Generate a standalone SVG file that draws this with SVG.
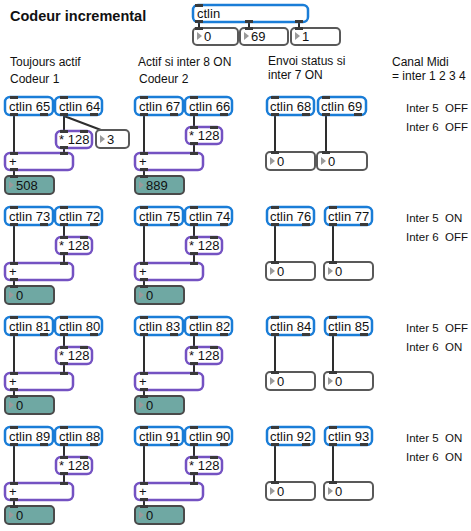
<svg xmlns="http://www.w3.org/2000/svg" width="471" height="531" viewBox="0 0 471 531">
<style>
text{font-family:"Liberation Sans",Arial,sans-serif;fill:#111}
.t{font-size:12px}
.i{font-size:11.5px;white-space:pre}
.h{font-size:14.5px;font-weight:bold}
.b{font-size:13px}
.ct{fill:#fff;stroke:#1a7dd7;stroke-width:2.5}
.op{fill:#fff;stroke:#7452c2;stroke-width:2.5}
.nb{fill:#fff;stroke:#595959;stroke-width:2}
.tl{fill:#6fa8a3;stroke:#4a4a4a;stroke-width:2}
.p{fill:#3a3a3a}
.tri{fill:#9a9a9a}
.w{stroke:#2e2e2e;stroke-width:2;fill:none}
</style>
<defs>
<polygon id="tr" class="tri" points="0,0 5,4 0,8"/>
</defs>

<text class="h" x="10" y="21">Codeur incremental</text>
<text class="t" x="10" y="66">Toujours actif</text>
<text class="t" x="10" y="83">Codeur 1</text>
<text class="t" x="138" y="66">Actif si inter 8 ON</text>
<text class="t" x="139" y="83">Codeur 2</text>
<text class="t" x="268" y="65">Envoi status si</text>
<text class="t" x="268" y="79">inter 7 ON</text>
<text class="t" x="392" y="66">Canal Midi</text>
<text class="t" x="392" y="80">= inter 1 2 3 4</text>

<text class="i" x="406" y="112" xml:space="preserve">Inter 5  OFF</text>
<text class="i" x="406" y="131" xml:space="preserve">Inter 6  OFF</text>
<text class="i" x="406" y="222" xml:space="preserve">Inter 5  ON</text>
<text class="i" x="406" y="241" xml:space="preserve">Inter 6  OFF</text>
<text class="i" x="406" y="332" xml:space="preserve">Inter 5  OFF</text>
<text class="i" x="406" y="351" xml:space="preserve">Inter 6  ON</text>
<text class="i" x="406" y="442" xml:space="preserve">Inter 5  ON</text>
<text class="i" x="406" y="461" xml:space="preserve">Inter 6  ON</text>

<g id="connectors">
<path class="w" d="M199 22V28M249 22V28M299 22V28"/>
<path class="w" d="M14 115V153M64 115V131M64 148V153M14 170V176M64 116L101 130"/>
<path class="w" d="M144 115V153M194 115V127M194 144V153M144 170V176"/>
<path class="w" d="M275 115V152M326 115V152"/>
<path class="w" d="M14 225V263M64 225V237M64 254V263M14 280V286"/>
<path class="w" d="M144 225V263M194 225V237M194 254V263M144 280V286"/>
<path class="w" d="M275 225V262M333 225V262"/>
<path class="w" d="M14 335V373M64 335V347M64 364V373M14 390V396"/>
<path class="w" d="M144 335V373M194 335V347M194 364V373M144 390V396"/>
<path class="w" d="M275 335V372M333 335V372"/>
<path class="w" d="M14 445V483M64 445V457M64 474V483M14 500V506"/>
<path class="w" d="M144 445V483M194 445V457M194 474V483M144 500V506"/>
<path class="w" d="M275 445V482M333 445V482"/>
</g>

<g id="ctlin_main">
<rect class="ct" x="193" y="5" width="115" height="17" rx="5"/>
<rect class="p" x="195" y="4" width="8" height="3"/>
<rect class="p" x="195" y="20" width="8" height="3"/>
<rect class="p" x="245" y="20" width="8" height="3"/>
<rect class="p" x="295" y="20" width="8" height="3"/>
<text class="b" x="197" y="18">ctlin</text>
</g>
<g id="num_top1"><rect class="nb" x="193" y="28" width="45" height="17" rx="4"/><rect class="p" x="195" y="27" width="8" height="3"/><use href="#tr" x="197" y="32"/><text class="b" x="204" y="41">0</text></g>
<g id="num_top2"><rect class="nb" x="240" y="28" width="48" height="17" rx="4"/><rect class="p" x="245" y="27" width="8" height="3"/><use href="#tr" x="244" y="32"/><text class="b" x="251" y="41">69</text></g>
<g id="num_top3"><rect class="nb" x="291" y="28" width="49" height="17" rx="4"/><rect class="p" x="295" y="27" width="8" height="3"/><use href="#tr" x="295" y="32"/><text class="b" x="302" y="41">1</text></g>

<g id="ctlin65"><rect class="ct" x="5" y="97" width="48" height="18" rx="5"/><rect class="p" x="10" y="96" width="8" height="3"/><rect class="p" x="10" y="113" width="8" height="3"/><rect class="p" x="40" y="113" width="8" height="3"/><text class="b" x="9" y="111">ctlin 65</text></g>
<g id="ctlin64"><rect class="ct" x="55" y="97" width="47" height="18" rx="5"/><rect class="p" x="60" y="96" width="8" height="3"/><rect class="p" x="60" y="113" width="8" height="3"/><rect class="p" x="90" y="113" width="8" height="3"/><text class="b" x="59" y="111">ctlin 64</text></g>
<g id="mul1a"><rect class="op" x="56" y="131" width="36" height="17" rx="5"/><rect class="p" x="60" y="130" width="8" height="3"/><rect class="p" x="80" y="130" width="8" height="3"/><rect class="p" x="60" y="146" width="8" height="3"/><text class="b" x="59" y="144">* 128</text></g>
<g id="num3"><rect class="nb" x="96" y="130" width="33" height="18" rx="4"/><use href="#tr" x="100" y="135"/><text class="b" x="107" y="144">3</text></g>
<g id="add1a"><rect class="op" x="5" y="153" width="68" height="17" rx="5"/><rect class="p" x="10" y="152" width="8" height="3"/><rect class="p" x="60" y="152" width="8" height="3"/><rect class="p" x="10" y="168" width="8" height="3"/><text class="b" x="9" y="166">+</text></g>
<g id="val1a"><rect class="tl" x="5" y="176" width="49" height="18" rx="4"/><rect class="p" x="10" y="175" width="8" height="3"/><use href="#tr" x="9" y="181"/><text class="b" x="16" y="190">508</text></g>

<g id="ctlin67"><rect class="ct" x="135" y="97" width="48" height="18" rx="5"/><rect class="p" x="140" y="96" width="8" height="3"/><rect class="p" x="140" y="113" width="8" height="3"/><rect class="p" x="170" y="113" width="8" height="3"/><text class="b" x="139" y="111">ctlin 67</text></g>
<g id="ctlin66"><rect class="ct" x="185" y="97" width="47" height="18" rx="5"/><rect class="p" x="190" y="96" width="8" height="3"/><rect class="p" x="190" y="113" width="8" height="3"/><rect class="p" x="220" y="113" width="8" height="3"/><text class="b" x="189" y="111">ctlin 66</text></g>
<g id="mul1b"><rect class="op" x="186" y="127" width="36" height="17" rx="5"/><rect class="p" x="190" y="126" width="8" height="3"/><rect class="p" x="210" y="126" width="8" height="3"/><rect class="p" x="190" y="142" width="8" height="3"/><text class="b" x="189" y="140">* 128</text></g>
<g id="add1b"><rect class="op" x="135" y="153" width="68" height="17" rx="5"/><rect class="p" x="140" y="152" width="8" height="3"/><rect class="p" x="190" y="152" width="8" height="3"/><rect class="p" x="140" y="168" width="8" height="3"/><text class="b" x="139" y="166">+</text></g>
<g id="val1b"><rect class="tl" x="135" y="176" width="49" height="18" rx="4"/><rect class="p" x="140" y="175" width="8" height="3"/><use href="#tr" x="139" y="181"/><text class="b" x="146" y="190">889</text></g>

<g id="ctlin68"><rect class="ct" x="267" y="97" width="47" height="18" rx="5"/><rect class="p" x="271" y="96" width="8" height="3"/><rect class="p" x="271" y="113" width="8" height="3"/><rect class="p" x="302" y="113" width="8" height="3"/><text class="b" x="270" y="111">ctlin 68</text></g>
<g id="ctlin69"><rect class="ct" x="318" y="97" width="48" height="18" rx="5"/><rect class="p" x="322" y="96" width="8" height="3"/><rect class="p" x="322" y="113" width="8" height="3"/><rect class="p" x="354" y="113" width="8" height="3"/><text class="b" x="321" y="111">ctlin 69</text></g>
<g id="num68"><rect class="nb" x="266" y="152" width="49" height="18" rx="4"/><rect class="p" x="271" y="151" width="8" height="3"/><use href="#tr" x="270" y="157"/><text class="b" x="277" y="166">0</text></g>
<g id="num69"><rect class="nb" x="317" y="152" width="50" height="18" rx="4"/><rect class="p" x="322" y="151" width="8" height="3"/><use href="#tr" x="321" y="157"/><text class="b" x="328" y="166">0</text></g>

<g id="ctlin73"><rect class="ct" x="5" y="207" width="48" height="18" rx="5"/><rect class="p" x="10" y="206" width="8" height="3"/><rect class="p" x="10" y="223" width="8" height="3"/><rect class="p" x="40" y="223" width="8" height="3"/><text class="b" x="9" y="221">ctlin 73</text></g>
<g id="ctlin72"><rect class="ct" x="55" y="207" width="47" height="18" rx="5"/><rect class="p" x="60" y="206" width="8" height="3"/><rect class="p" x="60" y="223" width="8" height="3"/><rect class="p" x="90" y="223" width="8" height="3"/><text class="b" x="59" y="221">ctlin 72</text></g>
<g id="mul2a"><rect class="op" x="56" y="237" width="36" height="17" rx="5"/><rect class="p" x="60" y="236" width="8" height="3"/><rect class="p" x="80" y="236" width="8" height="3"/><rect class="p" x="60" y="252" width="8" height="3"/><text class="b" x="59" y="250">* 128</text></g>
<g id="add2a"><rect class="op" x="5" y="263" width="68" height="17" rx="5"/><rect class="p" x="10" y="262" width="8" height="3"/><rect class="p" x="60" y="262" width="8" height="3"/><rect class="p" x="10" y="278" width="8" height="3"/><text class="b" x="9" y="276">+</text></g>
<g id="val2a"><rect class="tl" x="5" y="286" width="49" height="18" rx="4"/><rect class="p" x="10" y="285" width="8" height="3"/><use href="#tr" x="9" y="291"/><text class="b" x="16" y="300">0</text></g>

<g id="ctlin75"><rect class="ct" x="135" y="207" width="48" height="18" rx="5"/><rect class="p" x="140" y="206" width="8" height="3"/><rect class="p" x="140" y="223" width="8" height="3"/><rect class="p" x="170" y="223" width="8" height="3"/><text class="b" x="139" y="221">ctlin 75</text></g>
<g id="ctlin74"><rect class="ct" x="185" y="207" width="47" height="18" rx="5"/><rect class="p" x="190" y="206" width="8" height="3"/><rect class="p" x="190" y="223" width="8" height="3"/><rect class="p" x="220" y="223" width="8" height="3"/><text class="b" x="189" y="221">ctlin 74</text></g>
<g id="mul2b"><rect class="op" x="186" y="237" width="36" height="17" rx="5"/><rect class="p" x="190" y="236" width="8" height="3"/><rect class="p" x="210" y="236" width="8" height="3"/><rect class="p" x="190" y="252" width="8" height="3"/><text class="b" x="189" y="250">* 128</text></g>
<g id="add2b"><rect class="op" x="135" y="263" width="68" height="17" rx="5"/><rect class="p" x="140" y="262" width="8" height="3"/><rect class="p" x="190" y="262" width="8" height="3"/><rect class="p" x="140" y="278" width="8" height="3"/><text class="b" x="139" y="276">+</text></g>
<g id="val2b"><rect class="tl" x="135" y="286" width="49" height="18" rx="4"/><rect class="p" x="140" y="285" width="8" height="3"/><use href="#tr" x="139" y="291"/><text class="b" x="146" y="300">0</text></g>

<g id="ctlin76"><rect class="ct" x="267" y="207" width="47" height="18" rx="5"/><rect class="p" x="271" y="206" width="8" height="3"/><rect class="p" x="271" y="223" width="8" height="3"/><rect class="p" x="302" y="223" width="8" height="3"/><text class="b" x="270" y="221">ctlin 76</text></g>
<g id="ctlin77"><rect class="ct" x="325" y="207" width="47" height="18" rx="5"/><rect class="p" x="329" y="206" width="8" height="3"/><rect class="p" x="329" y="223" width="8" height="3"/><rect class="p" x="360" y="223" width="8" height="3"/><text class="b" x="328" y="221">ctlin 77</text></g>
<g id="num76"><rect class="nb" x="266" y="262" width="49" height="18" rx="4"/><rect class="p" x="271" y="261" width="8" height="3"/><use href="#tr" x="270" y="267"/><text class="b" x="277" y="276">0</text></g>
<g id="num77"><rect class="nb" x="324" y="262" width="49" height="18" rx="4"/><rect class="p" x="329" y="261" width="8" height="3"/><use href="#tr" x="328" y="267"/><text class="b" x="335" y="276">0</text></g>

<g id="ctlin81"><rect class="ct" x="5" y="317" width="48" height="18" rx="5"/><rect class="p" x="10" y="316" width="8" height="3"/><rect class="p" x="10" y="333" width="8" height="3"/><rect class="p" x="40" y="333" width="8" height="3"/><text class="b" x="9" y="331">ctlin 81</text></g>
<g id="ctlin80"><rect class="ct" x="55" y="317" width="47" height="18" rx="5"/><rect class="p" x="60" y="316" width="8" height="3"/><rect class="p" x="60" y="333" width="8" height="3"/><rect class="p" x="90" y="333" width="8" height="3"/><text class="b" x="59" y="331">ctlin 80</text></g>
<g id="mul3a"><rect class="op" x="56" y="347" width="36" height="17" rx="5"/><rect class="p" x="60" y="346" width="8" height="3"/><rect class="p" x="80" y="346" width="8" height="3"/><rect class="p" x="60" y="362" width="8" height="3"/><text class="b" x="59" y="360">* 128</text></g>
<g id="add3a"><rect class="op" x="5" y="373" width="68" height="17" rx="5"/><rect class="p" x="10" y="372" width="8" height="3"/><rect class="p" x="60" y="372" width="8" height="3"/><rect class="p" x="10" y="388" width="8" height="3"/><text class="b" x="9" y="386">+</text></g>
<g id="val3a"><rect class="tl" x="5" y="396" width="49" height="18" rx="4"/><rect class="p" x="10" y="395" width="8" height="3"/><use href="#tr" x="9" y="401"/><text class="b" x="16" y="410">0</text></g>

<g id="ctlin83"><rect class="ct" x="135" y="317" width="48" height="18" rx="5"/><rect class="p" x="140" y="316" width="8" height="3"/><rect class="p" x="140" y="333" width="8" height="3"/><rect class="p" x="170" y="333" width="8" height="3"/><text class="b" x="139" y="331">ctlin 83</text></g>
<g id="ctlin82"><rect class="ct" x="185" y="317" width="47" height="18" rx="5"/><rect class="p" x="190" y="316" width="8" height="3"/><rect class="p" x="190" y="333" width="8" height="3"/><rect class="p" x="220" y="333" width="8" height="3"/><text class="b" x="189" y="331">ctlin 82</text></g>
<g id="mul3b"><rect class="op" x="186" y="347" width="36" height="17" rx="5"/><rect class="p" x="190" y="346" width="8" height="3"/><rect class="p" x="210" y="346" width="8" height="3"/><rect class="p" x="190" y="362" width="8" height="3"/><text class="b" x="189" y="360">* 128</text></g>
<g id="add3b"><rect class="op" x="135" y="373" width="68" height="17" rx="5"/><rect class="p" x="140" y="372" width="8" height="3"/><rect class="p" x="190" y="372" width="8" height="3"/><rect class="p" x="140" y="388" width="8" height="3"/><text class="b" x="139" y="386">+</text></g>
<g id="val3b"><rect class="tl" x="135" y="396" width="49" height="18" rx="4"/><rect class="p" x="140" y="395" width="8" height="3"/><use href="#tr" x="139" y="401"/><text class="b" x="146" y="410">0</text></g>

<g id="ctlin84"><rect class="ct" x="267" y="317" width="47" height="18" rx="5"/><rect class="p" x="271" y="316" width="8" height="3"/><rect class="p" x="271" y="333" width="8" height="3"/><rect class="p" x="302" y="333" width="8" height="3"/><text class="b" x="270" y="331">ctlin 84</text></g>
<g id="ctlin85"><rect class="ct" x="325" y="317" width="47" height="18" rx="5"/><rect class="p" x="329" y="316" width="8" height="3"/><rect class="p" x="329" y="333" width="8" height="3"/><rect class="p" x="360" y="333" width="8" height="3"/><text class="b" x="328" y="331">ctlin 85</text></g>
<g id="num84"><rect class="nb" x="266" y="372" width="49" height="18" rx="4"/><rect class="p" x="271" y="371" width="8" height="3"/><use href="#tr" x="270" y="377"/><text class="b" x="277" y="386">0</text></g>
<g id="num85"><rect class="nb" x="324" y="372" width="49" height="18" rx="4"/><rect class="p" x="329" y="371" width="8" height="3"/><use href="#tr" x="328" y="377"/><text class="b" x="335" y="386">0</text></g>

<g id="ctlin89"><rect class="ct" x="5" y="427" width="48" height="18" rx="5"/><rect class="p" x="10" y="426" width="8" height="3"/><rect class="p" x="10" y="443" width="8" height="3"/><rect class="p" x="40" y="443" width="8" height="3"/><text class="b" x="9" y="441">ctlin 89</text></g>
<g id="ctlin88"><rect class="ct" x="55" y="427" width="47" height="18" rx="5"/><rect class="p" x="60" y="426" width="8" height="3"/><rect class="p" x="60" y="443" width="8" height="3"/><rect class="p" x="90" y="443" width="8" height="3"/><text class="b" x="59" y="441">ctlin 88</text></g>
<g id="mul4a"><rect class="op" x="56" y="457" width="36" height="17" rx="5"/><rect class="p" x="60" y="456" width="8" height="3"/><rect class="p" x="80" y="456" width="8" height="3"/><rect class="p" x="60" y="472" width="8" height="3"/><text class="b" x="59" y="470">* 128</text></g>
<g id="add4a"><rect class="op" x="5" y="483" width="68" height="17" rx="5"/><rect class="p" x="10" y="482" width="8" height="3"/><rect class="p" x="60" y="482" width="8" height="3"/><rect class="p" x="10" y="498" width="8" height="3"/><text class="b" x="9" y="496">+</text></g>
<g id="val4a"><rect class="tl" x="5" y="506" width="49" height="18" rx="4"/><rect class="p" x="10" y="505" width="8" height="3"/><use href="#tr" x="9" y="511"/><text class="b" x="16" y="520">0</text></g>

<g id="ctlin91"><rect class="ct" x="135" y="427" width="48" height="18" rx="5"/><rect class="p" x="140" y="426" width="8" height="3"/><rect class="p" x="140" y="443" width="8" height="3"/><rect class="p" x="170" y="443" width="8" height="3"/><text class="b" x="139" y="441">ctlin 91</text></g>
<g id="ctlin90"><rect class="ct" x="185" y="427" width="47" height="18" rx="5"/><rect class="p" x="190" y="426" width="8" height="3"/><rect class="p" x="190" y="443" width="8" height="3"/><rect class="p" x="220" y="443" width="8" height="3"/><text class="b" x="189" y="441">ctlin 90</text></g>
<g id="mul4b"><rect class="op" x="186" y="457" width="36" height="17" rx="5"/><rect class="p" x="190" y="456" width="8" height="3"/><rect class="p" x="210" y="456" width="8" height="3"/><rect class="p" x="190" y="472" width="8" height="3"/><text class="b" x="189" y="470">* 128</text></g>
<g id="add4b"><rect class="op" x="135" y="483" width="68" height="17" rx="5"/><rect class="p" x="140" y="482" width="8" height="3"/><rect class="p" x="190" y="482" width="8" height="3"/><rect class="p" x="140" y="498" width="8" height="3"/><text class="b" x="139" y="496">+</text></g>
<g id="val4b"><rect class="tl" x="135" y="506" width="49" height="18" rx="4"/><rect class="p" x="140" y="505" width="8" height="3"/><use href="#tr" x="139" y="511"/><text class="b" x="146" y="520">0</text></g>

<g id="ctlin92"><rect class="ct" x="267" y="427" width="47" height="18" rx="5"/><rect class="p" x="271" y="426" width="8" height="3"/><rect class="p" x="271" y="443" width="8" height="3"/><rect class="p" x="302" y="443" width="8" height="3"/><text class="b" x="270" y="441">ctlin 92</text></g>
<g id="ctlin93"><rect class="ct" x="325" y="427" width="47" height="18" rx="5"/><rect class="p" x="329" y="426" width="8" height="3"/><rect class="p" x="329" y="443" width="8" height="3"/><rect class="p" x="360" y="443" width="8" height="3"/><text class="b" x="328" y="441">ctlin 93</text></g>
<g id="num92"><rect class="nb" x="266" y="482" width="49" height="18" rx="4"/><rect class="p" x="271" y="481" width="8" height="3"/><use href="#tr" x="270" y="487"/><text class="b" x="277" y="496">0</text></g>
<g id="num93"><rect class="nb" x="324" y="482" width="49" height="18" rx="4"/><rect class="p" x="329" y="481" width="8" height="3"/><use href="#tr" x="328" y="487"/><text class="b" x="335" y="496">0</text></g>
</svg>
